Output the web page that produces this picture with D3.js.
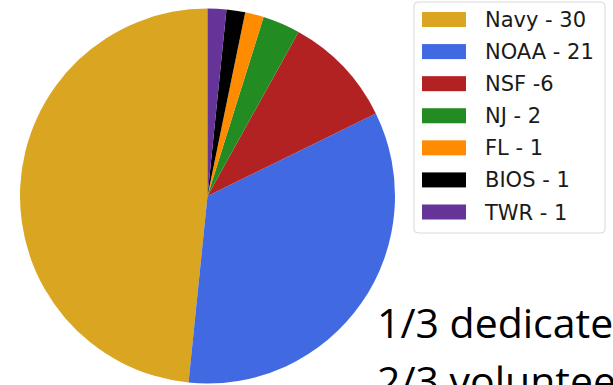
<!DOCTYPE html>
<html><head><meta charset="utf-8">
<script src="https://cdn.jsdelivr.net/npm/d3@7"></script>
<style>html,body{margin:0;padding:0;background:#fff;overflow:hidden}</style>
</head><body>
<svg id="c" width="613" height="385"></svg>
<script>
const labels = ["Navy - 30","NOAA - 21","NSF -6","NJ - 2","FL - 1","BIOS - 1","TWR - 1"];
const values = [30,21,6,2,1,1,1];
const colors = ["#DAA520","#4169E1","#B22222","#228B22","#FF8C00","#000000","#663399"];
const noteLines = ["1/3 dedicated","2/3 volunteer"];

const svg = d3.select("#c");
const cx = 207.5, cy = 196, r = 187.5;
const data = values.map((v,i)=>({v, label:labels[i], color:colors[i]}));
const pie = d3.pie().value(d=>d.v).sort(null).startAngle(0).endAngle(-2*Math.PI);
const arc = d3.arc().innerRadius(0).outerRadius(r);
svg.append("g").attr("transform",`translate(${cx},${cy})`)
  .selectAll("path").data(pie(data)).join("path")
  .attr("d",arc).attr("fill",d=>d.data.color);

// legend
const lg = svg.append("g");
lg.append("rect").attr("x",414).attr("y",2).attr("width",191).attr("height",231)
  .attr("rx",4).attr("fill","#fff").attr("stroke","#d8d8d8").attr("stroke-width",1);
const ly = d3.scalePoint().domain(labels).range([19.5, 212]);
data.forEach(d=>{
  lg.append("rect").attr("x",422).attr("y",ly(d.label)-7.5).attr("width",44).attr("height",15).attr("fill",d.color);
  lg.append("text").attr("x",485).attr("y",ly(d.label)).attr("dy","0.36em")
    .attr("font-family","DejaVu Sans").attr("font-size",21).attr("fill","#1a1a1a").text(d.label);
});

// note
noteLines.forEach((t,i)=>{
  svg.append("text").attr("x",377).attr("y",338+i*58)
    .attr("font-family","'Open Sans', sans-serif").attr("font-size",41).attr("fill","#000").text(t);
});
</script>
</body></html>
